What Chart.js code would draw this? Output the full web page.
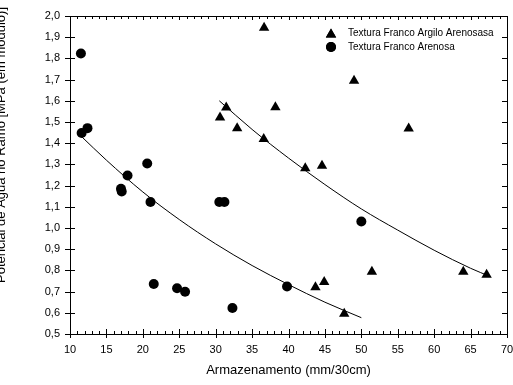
<!DOCTYPE html>
<html>
<head>
<meta charset="utf-8">
<script src="https://cdn.jsdelivr.net/npm/chart.js@4/dist/chart.umd.min.js"></script>
<style>
  html, body { margin: 0; padding: 0; background: #fff; }
  #wrap { width: 513px; height: 385px; }
</style>
</head>
<body>
<div id="wrap"><canvas id="chart1"></canvas></div>
<script>
  // Textura Franco Arenosa (círculos)
  const arenosaX = [11.5, 11.6, 12.4, 17.0, 17.1, 17.9, 20.6, 21.05, 21.5, 24.7, 25.8, 30.5, 31.2, 32.3, 39.8, 50.0];
  const arenosaY = [1.823, 1.448, 1.471, 1.185, 1.172, 1.248, 1.304, 1.123, 0.736, 0.716, 0.699, 1.123, 1.123, 0.623, 0.724, 1.031];

  // Textura Franco Argilo Arenosasa (triângulos)
  const argiloX = [30.6, 31.45, 32.95, 36.6, 36.65, 38.2, 42.3, 43.7, 44.6, 44.9, 47.65, 49.0, 51.45, 56.5, 64.0, 67.2];
  const argiloY = [1.521, 1.568, 1.471, 1.420, 1.944, 1.570, 1.282, 0.720, 1.294, 0.745, 0.595, 1.695, 0.794, 1.469, 0.794, 0.780];

  // curvas ajustadas
  const ajusteArenosaX = [11.5, 15, 20, 25, 30, 35, 40, 45, 50];
  const ajusteArenosaY = [1.434, 1.32, 1.17, 1.04, 0.925, 0.823, 0.733, 0.65, 0.577];
  const ajusteArgiloX = [30.5, 35, 40, 45, 50, 55, 60, 65, 67.7];
  const ajusteArgiloY = [1.60, 1.465, 1.33, 1.205, 1.09, 0.99, 0.895, 0.81, 0.771];

  const legendLabels = ['Textura Franco Argilo Arenosasa', 'Textura Franco Arenosa'];
  const xTitle = 'Armazenamento (mm/30cm)';
  const yTitle = 'Potencial de Água no Ramo [MPa (em módulo)]';

  const toPoints = (xs, ys) => xs.map((x, i) => ({ x: x, y: ys[i] }));
  const fontName = '"Liberation Sans", Arial, sans-serif';

  // eixos, marcas menores, legenda e título do eixo y
  const moldura = {
    id: 'moldura',
    afterDraw(chart) {
      const ctx = chart.ctx;
      const a = chart.chartArea;
      const xs = chart.scales.x, ys = chart.scales.y;
      ctx.save();
      ctx.strokeStyle = '#000';
      ctx.lineWidth = 1;
      ctx.beginPath();
      ctx.rect(Math.round(a.left) + 0.5, Math.round(a.top) + 0.5, Math.round(a.right - a.left), Math.round(a.bottom - a.top));
      ctx.stroke();

      ctx.beginPath();
      for (let v = 10; v <= 70; v++) {
        const px = Math.round(xs.getPixelForValue(v)) + 0.5;
        if (v % 5 === 0) {
          ctx.moveTo(px, a.bottom - 5); ctx.lineTo(px, a.bottom + 4);
          ctx.moveTo(px, a.top); ctx.lineTo(px, a.top + 4);
        } else {
          ctx.moveTo(px, a.bottom - 3); ctx.lineTo(px, a.bottom);
          ctx.moveTo(px, a.top); ctx.lineTo(px, a.top + 3);
        }
      }
      for (let k = 5; k <= 20; k++) {
        const py = Math.round(ys.getPixelForValue(k / 10)) + 0.5;
        ctx.moveTo(a.left - 5, py); ctx.lineTo(a.left + 5, py);
        ctx.moveTo(a.right - 5, py); ctx.lineTo(a.right, py);
      }
      ctx.stroke();

      // legenda
      const ds = chart.data.datasets;
      const lx = 331, rows = [33, 47];
      ctx.font = '10px ' + fontName;
      ctx.fillStyle = '#000';
      ctx.textBaseline = 'middle';
      [0, 1].forEach((i) => {
        Chart.helpers.drawPoint(ctx, {
          pointStyle: ds[i].pointStyle,
          radius: ds[i].pointRadius,
          borderWidth: 0,
          rotation: 0
        }, lx, rows[i] + (i === 0 ? 1.5 : 0));
        ctx.fillStyle = '#000';
        ctx.fill();
        ctx.fillText(legendLabels[i], 348, rows[i]);
      });

      // título y (cortado na margem esquerda, como no original)
      ctx.translate(1, 145);
      ctx.rotate(-Math.PI / 2);
      ctx.font = '13px ' + fontName;
      ctx.textAlign = 'center';
      ctx.textBaseline = 'middle';
      ctx.fillStyle = '#000';
      ctx.fillText(yTitle, 0, 0);
      ctx.restore();
    }
  };

  const ctx = document.getElementById('chart1').getContext('2d');
  const chart = new Chart(ctx, {
    type: 'scatter',
    data: {
      datasets: [{
        label: legendLabels[0],
        data: toPoints(argiloX, argiloY),
        pointStyle: 'triangle',
        pointRadius: 6,
        backgroundColor: '#000',
        borderWidth: 0
      }, {
        label: legendLabels[1],
        data: toPoints(arenosaX, arenosaY),
        pointStyle: 'circle',
        pointRadius: 5,
        backgroundColor: '#000',
        borderWidth: 0
      }, {
        type: 'line',
        data: toPoints(ajusteArenosaX, ajusteArenosaY),
        borderColor: '#000',
        borderWidth: 1,
        pointRadius: 0,
        cubicInterpolationMode: 'monotone',
        fill: false
      }, {
        type: 'line',
        data: toPoints(ajusteArgiloX, ajusteArgiloY),
        borderColor: '#000',
        borderWidth: 1,
        pointRadius: 0,
        cubicInterpolationMode: 'monotone',
        fill: false
      }]
    },
    options: {
      responsive: true,
      maintainAspectRatio: false,
      animation: false,
      layout: { padding: { top: 16, right: 5, left: 0, bottom: 0 } },
      plugins: { legend: { display: false }, tooltip: { enabled: false } },
      scales: {
        x: {
          type: 'linear',
          min: 10, max: 70,
          grid: { display: false, drawTicks: false },
          border: { display: false },
          ticks: { stepSize: 5, padding: 9, color: '#000', font: { family: fontName, size: 11 } },
          title: { display: true, text: xTitle, color: '#000', font: { family: fontName, size: 13 }, padding: { top: 2, bottom: 7 } },
          afterFit(s) { s.height = 51; s.paddingLeft = 0; s.paddingRight = 0; }
        },
        y: {
          min: 0.5, max: 2.0,
          grid: { display: false, drawTicks: false },
          border: { display: false },
          ticks: {
            stepSize: 0.1, padding: 10, color: '#000',
            font: { family: fontName, size: 11 },
            callback: (v) => v.toFixed(1).replace('.', ',')
          },
          afterFit(s) { s.width = 70; s.paddingTop = 0; s.paddingBottom = 0; }
        }
      }
    },
    plugins: [moldura]
  });
</script>
</body>
</html>
